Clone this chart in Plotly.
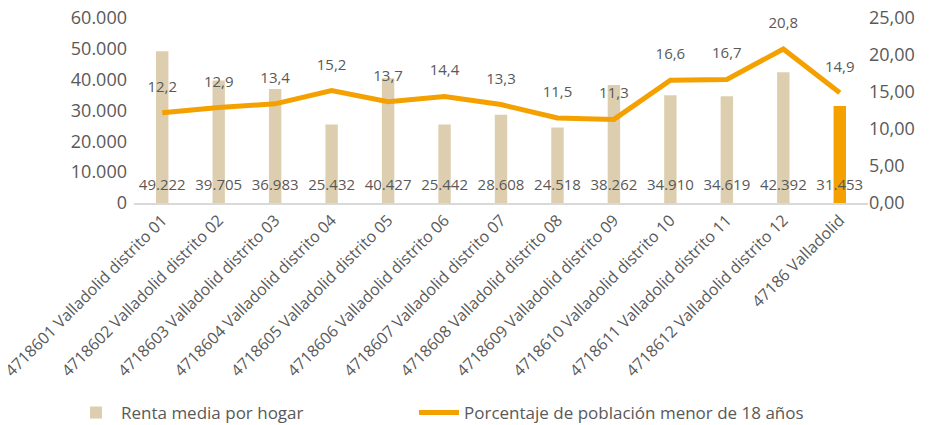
import plotly.graph_objects as go

categories = ["4718601 Valladolid distrito 01", "4718602 Valladolid distrito 02",
              "4718603 Valladolid distrito 03", "4718604 Valladolid distrito 04",
              "4718605 Valladolid distrito 05", "4718606 Valladolid distrito 06",
              "4718607 Valladolid distrito 07", "4718608 Valladolid distrito 08",
              "4718609 Valladolid distrito 09", "4718610 Valladolid distrito 10",
              "4718611 Valladolid distrito 11", "4718612 Valladolid distrito 12",
              "47186 Valladolid"]
renta = [49222, 39705, 36983, 25432, 40427, 25442, 28608, 24518, 38262, 34910, 34619, 42392, 31453]
pct_menor18 = [12.2, 12.9, 13.4, 15.2, 13.7, 14.4, 13.3, 11.5, 11.3, 16.6, 16.7, 20.8, 14.9]
left_ticks = [0, 10000, 20000, 30000, 40000, 50000, 60000]
right_ticks = [0, 5, 10, 15, 20, 25]

BEIGE = "#DDCEB0"
ORANGE = "#F4A100"
GRAY = "#595959"
FONT = "Open Sans"

def fmt_thousands(v):
    return f"{v:,}".replace(",", ".")

bar_colors = [BEIGE] * (len(categories) - 1) + [ORANGE]

fig = go.Figure()
fig.add_trace(go.Bar(
    x=categories, y=renta, name="Renta media por hogar",
    marker=dict(color=bar_colors, line=dict(width=0)),
    width=0.22,
    text=[fmt_thousands(v) for v in renta],
    texttemplate="<span style='font-size:15px'>%{text}</span><br><span style='font-size:14px'> </span>",
    textposition="inside", insidetextanchor="start",
    constraintext="none", textangle=0,
    textfont=dict(family=FONT, size=5, color=GRAY),
    cliponaxis=False, legend="legend",
))
fig.add_trace(go.Scatter(
    x=categories, y=pct_menor18, name="Porcentaje de población menor de 18 años",
    yaxis="y2", mode="lines+markers+text",
    line=dict(color=ORANGE, width=5),
    marker=dict(size=26, color="rgba(0,0,0,0)"),
    text=[f"{v:.1f}".replace(".", ",") for v in pct_menor18],
    textposition="top center",
    textfont=dict(family=FONT, size=15, color=GRAY),
    cliponaxis=False, legend="legend2",
))

legend_common = dict(orientation="h", xanchor="left", xref="container",
                     y=-1.135, yanchor="middle", yref="paper",
                     font=dict(size=17, color=GRAY), itemwidth=40,
                     bgcolor="rgba(0,0,0,0)")

fig.update_layout(
    width=922, height=417,
    margin=dict(l=126, r=62, t=10, b=222, autoexpand=False),
    plot_bgcolor="white", paper_bgcolor="white",
    font=dict(family=FONT, color=GRAY),
    showlegend=True,
    legend=dict(x=63 / 922, **legend_common),
    legend2=dict(x=406 / 922, **legend_common),
    xaxis=dict(showline=True, linecolor="#D9D9D9", linewidth=1.5, ticks="",
               tickangle=-45, tickfont=dict(size=16, color=GRAY), showgrid=False,
               automargin=False, range=[-0.5, len(categories) - 0.5]),
    yaxis=dict(range=[0, 60000], tickvals=left_ticks,
               ticktext=[fmt_thousands(v) for v in left_ticks],
               tickfont=dict(size=18, color=GRAY), showgrid=False, zeroline=False,
               ticklabelstandoff=6, automargin=False, ticklabeloverflow="allow"),
    yaxis2=dict(range=[0, 25], overlaying="y", side="right", tickvals=right_ticks,
                ticktext=[f"{v:.2f}".replace(".", ",") for v in right_ticks],
                tickfont=dict(size=18, color=GRAY), showgrid=False, zeroline=False,
                automargin=False, ticklabeloverflow="allow"),
)

fig.write_html("out.html")
